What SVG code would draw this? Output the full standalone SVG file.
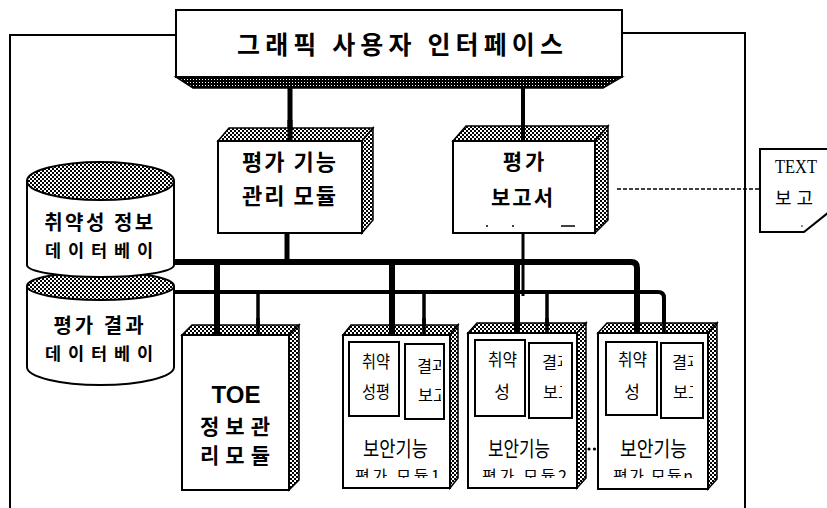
<svg xmlns="http://www.w3.org/2000/svg" width="827" height="508" viewBox="0 0 827 508">
<defs>
<pattern id="mesh" width="4" height="4" patternUnits="userSpaceOnUse"><rect width="4" height="4" fill="#fff"/><path d="M0,0h2v2h-2zM2,2h2v2h-2z" fill="#000"/></pattern>
<pattern id="mesh2" width="3" height="3" patternUnits="userSpaceOnUse"><rect width="3" height="3" fill="#000"/><rect x="1" y="1" width="1" height="1" fill="#fff"/></pattern>
<clipPath id="c1a"><rect x="400" y="340" width="41" height="80"/></clipPath>
<clipPath id="c2a"><rect x="525" y="340" width="37" height="80"/></clipPath>
<clipPath id="c3a"><rect x="657" y="340" width="36" height="80"/></clipPath>
<clipPath id="cb"><rect x="340" y="455" width="400" height="23"/></clipPath>
</defs>
<style>
.ln{fill:none;stroke:#000;stroke-width:2}
.box{fill:#fff;stroke:#000;stroke-width:2}
.sh{fill:url(#mesh);stroke:#000;stroke-width:1.5}
.kb{font-family:"Noto Sans CJK KR","Noto Sans",sans-serif;font-weight:bold;fill:#000}
.kr{font-family:"Noto Sans CJK KR","Noto Sans",sans-serif;fill:#000}
.bus{fill:none;stroke:#000;stroke-linejoin:round}
</style>

<g id="frame">
<path class="ln" d="M176,35 H10 V508"/>
<path class="ln" d="M622,33 H745 V508"/>
</g>

<g id="connectors">
<line x1="290" y1="88" x2="290" y2="130" stroke="#000" stroke-width="5"/>
<line x1="523" y1="88" x2="523" y2="128" stroke="#000" stroke-width="4"/>
<line x1="287" y1="233" x2="287" y2="262" stroke="#000" stroke-width="5"/>
<line x1="523" y1="233" x2="523" y2="296" stroke="#000" stroke-width="3"/>
<path class="bus" stroke-width="6" d="M174,262 H631 Q637,262 637,268 V330"/>
<path class="bus" stroke-width="4" d="M174,292 H658 Q664,292 664,298 V330"/>
<line x1="217" y1="262" x2="217" y2="330" stroke="#000" stroke-width="6"/>
<line x1="258" y1="292" x2="258" y2="330" stroke="#000" stroke-width="3.5"/>
<line x1="392" y1="262" x2="392" y2="330" stroke="#000" stroke-width="6"/>
<line x1="424" y1="292" x2="424" y2="330" stroke="#000" stroke-width="3.5"/>
<line x1="517" y1="262" x2="517" y2="330" stroke="#000" stroke-width="6"/>
<line x1="547" y1="292" x2="547" y2="330" stroke="#000" stroke-width="3.5"/>
<line x1="617" y1="189" x2="760" y2="189" stroke="#000" stroke-width="1.3" stroke-dasharray="4,2"/>
</g>

<g id="gui">
<rect class="box" x="176" y="10" width="446" height="67"/>
<polygon points="176,77 622,77 603,88 193,88" fill="url(#mesh2)" stroke="#000" stroke-width="1.5"/>
<text class="kb" x="237" y="54" font-size="25" textLength="326" lengthAdjust="spacing">그래픽 사용자 인터페이스</text>
</g>

<g id="eval-mgmt">
<polygon class="sh" points="218,141 229,128 373,128 362,141"/>
<polygon class="sh" points="362,141 373,128 373,220 362,233"/>
<rect class="box" x="218" y="141" width="144" height="92"/>
<text class="kb" x="290" y="170" font-size="22" text-anchor="middle" letter-spacing="2">평가 기능</text>
<text class="kb" x="290" y="204" font-size="22" text-anchor="middle" letter-spacing="2">관리 모듈</text>
</g>
<line x1="290" y1="120" x2="290" y2="140" stroke="#000" stroke-width="5"/>

<g id="eval-report">
<polygon class="sh" points="453,141 466,126 608,126 595,141"/>
<polygon class="sh" points="595,141 608,126 608,220 595,233"/>
<rect class="box" x="453" y="141" width="142" height="92"/>
<text class="kb" x="525" y="169" font-size="21" text-anchor="middle" letter-spacing="3">평가</text>
<text class="kb" x="523" y="205" font-size="21" text-anchor="middle" letter-spacing="2">보고서</text>
<circle cx="487" cy="226" r="1"/><circle cx="513" cy="226" r="1"/>
<line x1="561" y1="226" x2="575" y2="226" stroke="#000" stroke-width="1.5"/>
</g>
<line x1="523" y1="120" x2="523" y2="140" stroke="#000" stroke-width="4"/>

<g id="text-report">
<path class="box" d="M760,149 H829 V212 L804,232 H760 Z" stroke-width="1.5"/>
<text x="775" y="173" font-family="Liberation Serif,serif" font-size="18" textLength="42" lengthAdjust="spacingAndGlyphs">TEXT</text>
<text class="kr" x="775" y="205" font-size="18" textLength="38" lengthAdjust="spacing">보고</text>
<circle cx="802" cy="226" r="0.8"/>
</g>

<g id="result-db">
<path class="box" d="M27,286 V367 A73.5,18 0 0 0 174,367 V286"/>
<ellipse cx="100.5" cy="286" rx="73.5" ry="14" fill="url(#mesh)" stroke="#000" stroke-width="2"/>
<text class="kb" x="100" y="333" font-size="20" text-anchor="middle" letter-spacing="3">평가 결과</text>
<text class="kb" x="45" y="360" font-size="17.5" textLength="108" lengthAdjust="spacing">데이터베이</text>
</g>

<g id="vuln-db">
<path class="box" d="M27,181 V265 A73.5,12 0 0 0 174,265 V181"/>
<ellipse cx="100.5" cy="181" rx="73.5" ry="19" fill="url(#mesh)" stroke="#000" stroke-width="2"/>
<text class="kb" x="100" y="230" font-size="20" text-anchor="middle" letter-spacing="2.5">취약성 정보</text>
<text class="kb" x="45" y="257" font-size="17.5" textLength="108" lengthAdjust="spacing">데이터베이</text>
</g>

<g id="toe">
<polygon class="sh" points="182,335 192,325 299,325 289,335"/>
<polygon class="sh" points="289,335 299,325 299,480 289,490"/>
<rect class="box" x="182" y="335" width="107" height="155"/>
<text x="236" y="403" font-family="Liberation Sans,Arial,sans-serif" font-weight="bold" font-size="24" text-anchor="middle">TOE</text>
<text class="kb" x="200" y="434" font-size="21" textLength="70" lengthAdjust="spacing">정보관</text>
<text class="kb" x="200" y="463" font-size="21" textLength="70" lengthAdjust="spacing">리모듈</text>
</g>

<g id="module1">
<polygon class="sh" points="343,335 351,325 458,325 450,335"/>
<polygon class="sh" points="450,335 458,325 458,478 450,488"/>
<rect class="box" x="343" y="335" width="107" height="153"/>
<rect class="box" x="349" y="342" width="50" height="74" stroke-width="1.5"/>
<rect class="box" x="405" y="344" width="39" height="75" stroke-width="1.5"/>
<text class="kr" x="362" y="368" font-size="17" textLength="28" lengthAdjust="spacingAndGlyphs">취약</text>
<text class="kr" x="362" y="398" font-size="17" textLength="28" lengthAdjust="spacingAndGlyphs">성평</text>
<g clip-path="url(#c1a)">
<text class="kr" x="417" y="372" font-size="16" textLength="30" lengthAdjust="spacingAndGlyphs">결과</text>
<text class="kr" x="418" y="401" font-size="16" textLength="30" lengthAdjust="spacingAndGlyphs">보고</text>
</g>
<text class="kr" x="363" y="456" font-size="21" textLength="65" lengthAdjust="spacingAndGlyphs">보안기능</text>
<text class="kr" x="355" y="482" font-size="16" textLength="85" lengthAdjust="spacing" clip-path="url(#cb)">평가 모듈1</text>
</g>

<g id="module2">
<polygon class="sh" points="468,333 477,323 586,323 577,333"/>
<polygon class="sh" points="577,333 586,323 586,478 577,488"/>
<rect class="box" x="468" y="333" width="109" height="155"/>
<rect class="box" x="475" y="340" width="50" height="76" stroke-width="1.5"/>
<rect class="box" x="529" y="343" width="43" height="75" stroke-width="1.5"/>
<text class="kr" x="488" y="366" font-size="17" textLength="29" lengthAdjust="spacingAndGlyphs">취약</text>
<text class="kr" x="502" y="398" font-size="17" text-anchor="middle">성</text>
<g clip-path="url(#c2a)">
<text class="kr" x="542" y="368" font-size="16" textLength="30" lengthAdjust="spacingAndGlyphs">결과</text>
<text class="kr" x="543" y="398" font-size="16" textLength="30" lengthAdjust="spacingAndGlyphs">보고</text>
</g>
<text class="kr" x="488" y="456" font-size="21" textLength="62" lengthAdjust="spacingAndGlyphs">보안기능</text>
<text class="kr" x="482" y="482" font-size="16" textLength="85" lengthAdjust="spacing" clip-path="url(#cb)">평가 모듈2</text>
</g>

<g id="ellipsis">
<circle cx="589" cy="449" r="1.6"/>
<circle cx="594.5" cy="449" r="1.6"/>
</g>

<g id="module3">
<polygon class="sh" points="598,333 607,323 717,323 708,333"/>
<polygon class="sh" points="708,333 717,323 717,479 708,489"/>
<rect class="box" x="598" y="333" width="110" height="156"/>
<rect class="box" x="606" y="342" width="51" height="73" stroke-width="1.5"/>
<rect class="box" x="661" y="343" width="42" height="75" stroke-width="1.5"/>
<text class="kr" x="618" y="366" font-size="17" textLength="29" lengthAdjust="spacingAndGlyphs">취약</text>
<text class="kr" x="632" y="398" font-size="17" text-anchor="middle">성</text>
<g clip-path="url(#c3a)">
<text class="kr" x="672" y="368" font-size="16" textLength="30" lengthAdjust="spacingAndGlyphs">결과</text>
<text class="kr" x="673" y="398" font-size="16" textLength="30" lengthAdjust="spacingAndGlyphs">보고</text>
</g>
<text class="kr" x="620" y="456" font-size="21" textLength="67" lengthAdjust="spacingAndGlyphs">보안기능</text>
<text class="kr" x="613" y="482" font-size="16" textLength="80" lengthAdjust="spacing" clip-path="url(#cb)">평가 모듈n</text>
</g>

<g id="drops">
<line x1="217" y1="318" x2="217" y2="334" stroke="#000" stroke-width="6"/>
<line x1="258" y1="318" x2="258" y2="334" stroke="#000" stroke-width="3.5"/>
<line x1="392" y1="318" x2="392" y2="334" stroke="#000" stroke-width="6"/>
<line x1="424" y1="318" x2="424" y2="334" stroke="#000" stroke-width="3.5"/>
<line x1="517" y1="318" x2="517" y2="332" stroke="#000" stroke-width="6"/>
<line x1="547" y1="318" x2="547" y2="332" stroke="#000" stroke-width="3.5"/>
<line x1="637" y1="318" x2="637" y2="332" stroke="#000" stroke-width="6"/>
<line x1="664" y1="318" x2="664" y2="332" stroke="#000" stroke-width="3.5"/>
</g>
</svg>
